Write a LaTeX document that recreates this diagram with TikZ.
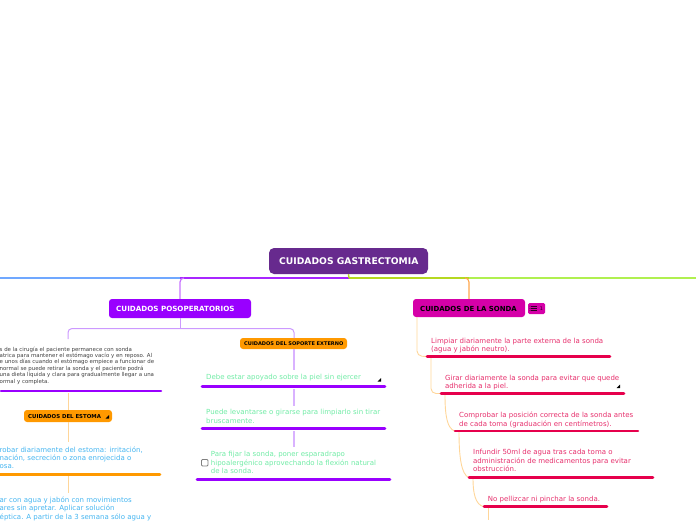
\documentclass[tikz,border=0pt]{standalone}
\usepackage{fontspec}
\setmainfont{DejaVu Sans}
\definecolor{cpurple}{HTML}{9900FF}
\definecolor{croot}{HTML}{672A8E}
\definecolor{corange}{HTML}{FF9900}
\definecolor{cmag}{HTML}{D500A8}
\definecolor{cred}{HTML}{E6004C}
\definecolor{tred}{HTML}{E62E6B}
\definecolor{tgreen}{HTML}{70EBA5}
\definecolor{tblue}{HTML}{45B5F0}
\definecolor{lpurple}{HTML}{CC99FF}
\definecolor{lorange}{HTML}{FFD699}
\definecolor{lblue}{HTML}{70A8FF}
\definecolor{lgreen}{HTML}{B0F050}
\definecolor{ygreen}{HTML}{B5D820}
\tikzset{
 x=1pt,y=-1pt,
 box/.style={rounded corners=3pt,inner sep=0pt,draw=none},
 lbl/.style={anchor=base west,inner sep=0pt,align=left},
 txt/.style={lbl,font=\fontsize{7}{8.3}\selectfont},
 bar/.style={line width=2.6pt,line cap=round},
 conn/.style={line width=1pt,rounded corners=4pt},
 stem/.style={line width=1.1pt,draw=lpurple!75},
 curved/.style={line width=.9pt,draw=lorange},
 tri/.style={fill=black,draw=none},
}
\begin{document}
\begin{tikzpicture}
\useasboundingbox (0,0) rectangle (696,520);
\clip (0,0) rectangle (696,520);
% junctions
\coordinate (edgeL) at (0,278);
\coordinate (edgeR) at (696,278);
\coordinate (hubP) at (180,278);
\coordinate (hubR) at (349,278);
\coordinate (hubS) at (469,278);
% main nodes
\node[box,rounded corners=5pt,fill=croot,minimum width=159pt,minimum height=26pt] (root) at (348.5,261) {};
\node[lbl,text=white,font=\fontsize{9.2}{11}\selectfont\bfseries] (rootT) at (279,264.5) {CUIDADOS GASTRECTOMIA};
\node[box,fill=cpurple,minimum width=142pt,minimum height=19pt] (pos) at (180,308.5) {};
\node[lbl,text=white,font=\fontsize{7.15}{8}\selectfont\bfseries] (posT) at (116,311.5) {CUIDADOS POSOPERATORIOS};
\node[box,fill=cmag,minimum width=112pt,minimum height=18pt] (sonda) at (469,308) {};
\node[lbl,text=black,font=\fontsize{6.95}{8}\selectfont\bfseries] (sondaT) at (420,311) {CUIDADOS DE LA SONDA};
\node[box,fill=cmag,minimum width=17pt,minimum height=11pt,rounded corners=1.5pt] (badge) at (536.5,308.5) {};
\node[lbl,text=black!80!cmag,font=\fontsize{5}{6}\selectfont] (badgeT) at (539.6,310.5) {1};
\foreach \yy in {306.2,308.3,310.4}{
  \draw[line width=.55pt,black!80!cmag] (531.3,\yy) -- (537.3,\yy);
  \fill[black!80!cmag] (530,\yy) circle (.5pt);
}
\node[box,fill=corange,minimum width=107pt,minimum height=11pt] (soporte) at (293.5,343.5) {};
\node[lbl,text=black,font=\fontsize{5.05}{6}\selectfont\bfseries] (soporteT) at (244,345.5) {CUIDADOS DEL SOPORTE EXTERNO};
\node[box,fill=corange,minimum width=88pt,minimum height=12pt] (estoma) at (68,416) {};
\node[lbl,text=black,font=\fontsize{5.4}{6}\selectfont\bfseries] (estomaT) at (28,418) {CUIDADOS DEL ESTOMA};
% bars
\coordinate (b1a) at (1,391); \coordinate (b1b) at (161,391);
\coordinate (b2a) at (202,386.5); \coordinate (b2b) at (385,386.5);
\coordinate (b3a) at (202,428.5); \coordinate (b3b) at (385,428.5);
\coordinate (b4a) at (197,479.5); \coordinate (b4b) at (390,479.5);
\coordinate (b5a) at (-2,474.5); \coordinate (b5b) at (160,474.5);
\coordinate (s1a) at (427,356.5); \coordinate (s1b) at (610,356.5);
\coordinate (s2a) at (441,393.5); \coordinate (s2b) at (624,393.5);
\coordinate (s3a) at (455,431); \coordinate (s3b) at (638,431);
\coordinate (s4a) at (469,477.5); \coordinate (s4b) at (653,477.5);
\coordinate (s5a) at (484,506.7); \coordinate (s5b) at (607,506.7);
% top connectors
\draw[line width=1.4pt,lblue] (edgeL) -- (hubP);
\draw[line width=1.4pt,cpurple!85] (hubR) -- (hubP);
\draw[line width=1.2pt,cpurple!55,rounded corners=4pt] (pos.north) -- (hubP) -- +(4,0);
\draw[line width=1.4pt,ygreen] (root.south) -- (hubR);
\draw[line width=1.4pt,ygreen] (hubR) -- (hubS);
\draw[line width=1.2pt,lgreen] (hubS) -- (edgeR);
\draw[line width=1.1pt,orange!70!white,rounded corners=4pt] (465,278) -- (hubS) -- (sonda.north);
% pos branches
\coordinate (polL) at (68,328.5); \coordinate (polR) at (294,328.5); \coordinate (polM) at (180,328.5);
\coordinate (polLe) at (68,339);
\coordinate (c1) at (294,389); \coordinate (g1) at (294,406);
\coordinate (c2) at (294,431); \coordinate (g2) at (294,447);
\coordinate (c3) at (68,393); \coordinate (g3) at (68,442);
\coordinate (c4) at (68,476); \coordinate (g4) at (68,493);
\coordinate (sopB) at (294,349); \coordinate (sopE) at (294,370);
\draw[conn,lpurple] (polLe) -- (polL) -- (polR) -- (294,338);
\draw[conn,lpurple] (pos.south) -- (polM);
\draw[stem] (sopB) -- (sopE);
\draw[stem] (c1) -- (g1);
\draw[stem] (c2) -- (g2);
\draw[line width=1pt,lorange] (c3) -- (estoma.north);
\draw[line width=1pt,lorange] (estoma.south) -- (g3);
\draw[line width=1pt,lorange] (c4) -- (g4);
% sonda curves
\draw[curved,rounded corners=5pt] (417,317) -- (417,356) -- (s1a);
\draw[curved,rounded corners=5pt] (431,358) -- (431,393.5) -- (s2a);
\draw[curved] (445,395) .. controls (445,415) and (447,429) .. (s3a);
\draw[curved] (459,432) .. controls (459,455) and (461,475) .. (s4a);
\draw[curved] (473,479) .. controls (473,492) and (475,505) .. (s5a);
\draw[curved] (488,508) -- (488,520);
% bars drawn
\draw[bar,cpurple] (b1a) -- (b1b);
\draw[bar,cpurple] (b2a) -- (b2b);
\draw[bar,cpurple] (b3a) -- (b3b);
\draw[bar,cpurple] (b4a) -- (b4b);
\draw[bar,corange] (b5a) -- (b5b);
\draw[bar,cred] (s1a) -- (s1b);
\draw[bar,cred] (s2a) -- (s2b);
\draw[bar,cred] (s3a) -- (s3b);
\draw[bar,cred] (s4a) -- (s4b);
\draw[bar,cred] (s5a) -- (s5b);
% texts (node base = last line baseline)
\node[lbl,text=black!75,font=\fontsize{5.45}{6.4}\selectfont] (t0) at (-0.5,383) {s de la cirugía el paciente permanece con sonda\\atrica para mantener el estómago vacío y en reposo. Al\\e unos días cuando el estómago empiece a funcionar de\\normal se puede retirar la sonda y el paciente podrá\\una dieta líquida y clara para gradualmente llegar a una\\ormal y completa.};
\node[txt,text=tgreen] (t1) at (206,379) {Debe estar apoyado sobre la piel sin ejercer};
\node[txt,text=tgreen] (t2) at (206,423.2) {Puede levantarse o girarse para limpiarlo sin tirar\\bruscamente.};
\node[txt,text=tgreen] (t3) at (210.7,473.5) {Para fijar la sonda, poner esparadrapo\\hipoalergénico aprovechando la flexión natural\\de la sonda.};
\node[txt,text=tblue] (t4) at (-0.5,468.7) {robar diariamente del estoma: irritación,\\nación, secreción o zona enrojecida o\\osa.};
\node[txt,text=tblue] (t5) at (-0.5,519.2) {ar con agua y jabón con movimientos\\ares sin apretar. Aplicar solución\\éptica. A partir de la 3 semana sólo agua y};
\node[txt,text=tred] (r1) at (431,351.7) {Limpiar diariamente la parte externa de la sonda\\(agua y jabón neutro).};
\node[txt,text=tred] (r2) at (445,388.5) {Girar diariamente la sonda para evitar que quede\\adherida a la piel.};
\node[txt,text=tred] (r3) at (459,426) {Comprobar la posición correcta de la sonda antes\\de cada toma (graduación en centímetros).};
\node[txt,text=tred] (r4) at (473,471.5) {Infundir 50ml de agua tras cada toma o\\administración de medicamentos para evitar\\obstrucción.};
\node[txt,text=tred] (r5) at (487.7,501) {No pellizcar ni pinchar la sonda.};
% checkbox
\draw[line width=.8pt,gray,fill=white,rounded corners=1pt] (201.5,459.5) rectangle (208,466);
% collapse marks
\fill[tri] (381,378) -- (381,381.5) -- (377.5,381.5) -- cycle;
\fill[tri] (620,384.5) -- (620,388) -- (616.5,388) -- cycle;
\fill[tri] (109,415) -- (109,418.5) -- (105.5,418.5) -- cycle;
\end{tikzpicture}
\end{document}
